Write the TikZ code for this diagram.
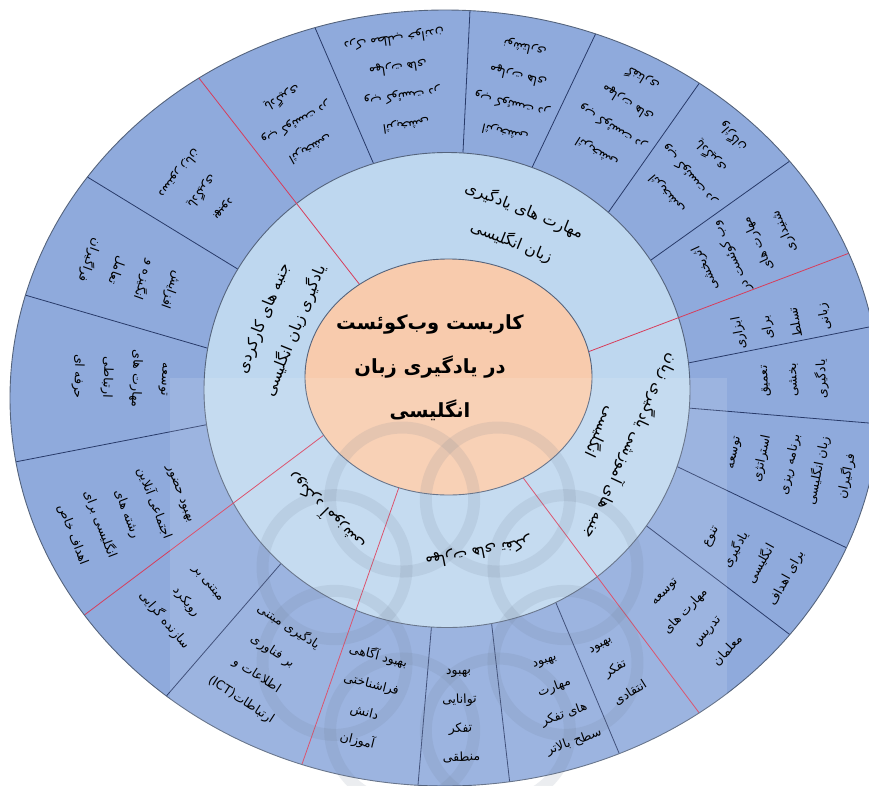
\documentclass[tikz,border=0pt]{standalone}
\usepackage{fontspec}
\usetikzlibrary{calc}
\TeXXeTstate=1
\newfontfamily\fafont[Script=Arabic]{DejaVu Sans}
\newcommand\prs[1]{{\fafont\beginR #1\endR}}
\definecolor{ringout}{RGB}{143,170,220}
\definecolor{ringin}{RGB}{190,215,239}
\definecolor{core}{RGB}{248,203,173}
\definecolor{rimline}{RGB}{85,100,125}
\definecolor{divblue}{RGB}{40,58,105}
\definecolor{divred}{RGB}{215,60,90}
\definecolor{wmgray}{RGB}{105,120,140}
\begin{document}
\begin{tikzpicture}[x=1pt,y=-1pt,
  otxt/.style={font=\fafont\fontsize{12.5}{29}\selectfont, align=center, inner sep=0pt, text=black},
  itxt/.style={font=\fafont\fontsize{15.5}{34}\selectfont, align=center, inner sep=0pt, text=black},
  ctxt/.style={font=\fafont\bfseries\fontsize{19.5}{44}\selectfont, align=center, inner sep=0pt, text=black},
  divb/.style={draw=divblue, line width=0.8pt},
  divr/.style={draw=divred, line width=0.8pt},
  rim/.style={draw=rimline, line width=0.9pt}]
\useasboundingbox (0,0) rectangle (869,785);
\clip (0,0) rectangle (869,785);
% centres
\coordinate (co) at (445,398);
\coordinate (ci) at (447,390);
\coordinate (cc) at (448.5,377);
% rings
\fill[ringout] (co) ellipse[x radius=435pt, y radius=388pt];
% divider coordinates (inner, outer)
\coordinate (l1a) at (463,152); \coordinate (l1b) at (470,10);
\coordinate (l2a) at (537,157); \coordinate (l2b) at (596,33);
\coordinate (l3a) at (610,210); \coordinate (l3b) at (698,85);
\coordinate (l4a) at (651,260); \coordinate (l4b) at (787,163);
\coordinate (l5a) at (688,363); \coordinate (l5b) at (869,327);
\coordinate (l6a) at (688,408); \coordinate (l6b) at (869,423);
\coordinate (l7a) at (678,467); \coordinate (l7b) at (847,548);
\coordinate (l8a) at (648,527); \coordinate (l8b) at (793,637);
\coordinate (l9a) at (556,603); \coordinate (l9b) at (619,753);
\coordinate (l10a) at (492,627); \coordinate (l10b) at (510,785);
\coordinate (l11a) at (431,632); \coordinate (l11b) at (418,785);
\coordinate (l12a) at (278,567); \coordinate (l12b) at (169,693);
\coordinate (l13a) at (205,425); \coordinate (l13b) at (15,462);
\coordinate (l14a) at (207,348); \coordinate (l14b) at (25,295);
\coordinate (l15a) at (236,268); \coordinate (l15b) at (89,178);
\coordinate (l16a) at (372,160); \coordinate (l16b) at (316,30);
\coordinate (r1a) at (593,350); \coordinate (r1b) at (868,246);
\coordinate (r2a) at (527,483); \coordinate (r2b) at (697,710);
\coordinate (r3a) at (398,490); \coordinate (r3b) at (301,767);
\coordinate (r4a) at (300,453); \coordinate (r4b) at (87,613);
\coordinate (r5a) at (360,285); \coordinate (r5b) at (202,82);
\begin{scope}
  \clip (co) ellipse[x radius=435pt, y radius=388pt];
  \foreach \n in {1,...,16}
    \draw[divb] ($(l\n a)!-0.3!(l\n b)$) -- ($(l\n a)!1.4!(l\n b)$);
\end{scope}
\filldraw[fill=ringin, rim] (ci) ellipse[x radius=243pt, y radius=237.5pt];
\begin{scope}
  \clip (co) ellipse[x radius=435pt, y radius=388pt];
  \foreach \n in {1,...,5}
    \draw[divr] ($(r\n a)!-0.3!(r\n b)$) -- ($(r\n a)!1.4!(r\n b)$);
\end{scope}
\filldraw[fill=core, rim] (cc) ellipse[x radius=143.5pt, y radius=118pt];
\draw[rim] (co) ellipse[x radius=435pt, y radius=388pt];
% watermark
\fill[white, opacity=0.12] (170,378) rectangle (727,785);
\coordinate (wmc) at (450,615);
\begin{scope}[opacity=0.13]
  \foreach \k in {0,...,7}
    \draw[wmgray, line width=12pt] ($(wmc)+({125*cos(\k*45+22.5)},{125*sin(\k*45+22.5)})$) circle[radius=72pt];
\end{scope}
% centre text
\node[ctxt] (title) at (430,368) {\prs{کاربست وب‌کوئست}\\\prs{در یادگیری زبان}\\\prs{انگلیسی}};
% inner ring
\node[itxt, rotate=-22] (catA) at (518,226) {\prs{مهارت های یادگیری}\\\prs{زبان انگلیسی}};
\node[itxt, rotate=-115] (catB) at (617,440) {\prs{جنبه های آموزشی یادگیری زبان}\\\prs{انگلیسی}};
\node[itxt, rotate=-169] (catC) at (478,552) {\prs{مهارت های تفکر}};
\node[itxt, rotate=135] (catD) at (326,512) {\prs{رویکرد آموزشی}};
\node[itxt, rotate=68] (catE) at (280,325) {\prs{جنبه های کارکردی}\\\prs{یادگیری زبان انگلیسی}};
% outer ring
\node[otxt, rotate=209] (o1) at (296,123) {\prs{اثربخشی}\\\prs{وب کوئست در}\\\prs{یادگیری}};
\node[otxt, rotate=188] (o2) at (400,82) {\prs{اثربخشی}\\\prs{وب کوئست در}\\\prs{مهارت های}\\\prs{درک مطلب خواندن}};
\node[otxt, rotate=167] (o3) at (515,90) {\prs{اثربخشی}\\\prs{وب کوئست در}\\\prs{مهارت های}\\\prs{نوشتاری}};
\node[otxt, rotate=148] (o4) at (620,115) {\prs{اثربخشی}\\\prs{وب کوئست در}\\\prs{مهارت های}\\\prs{گفتاری}};
\node[otxt, rotate=131] (o5) at (700,165) {\prs{اثربخشی}\\\prs{وب کوئست در}\\\prs{یادگیری}\\\prs{واژگان}};
\node[otxt, rotate=115] (o6) at (745,250) {\prs{اثربخشی}\\\prs{وب کوئست در}\\\prs{مهارت های}\\\prs{شنیداری}};
\node[otxt, rotate=101] (o7) at (782,325) {\prs{ابزاری}\\\prs{برای}\\\prs{تسلط}\\\prs{زبانی}};
\node[otxt, rotate=92] (o8) at (795,380) {\prs{تعمیق}\\\prs{بخشی}\\\prs{یادگیری}};
\node[otxt, rotate=78] (o9) at (792,465) {\prs{توسعه}\\\prs{استراتژی}\\\prs{برنامه ریزی}\\\prs{زبان انگلیسی}\\\prs{فراگیران}};
\node[otxt, rotate=61] (o10) at (750,558) {\prs{تنوع}\\\prs{یادگیری}\\\prs{انگلیسی}\\\prs{برای اهداف}};
\node[otxt, rotate=47] (o11) at (697,622) {\prs{توسعه}\\\prs{مهارت های}\\\prs{تدریس}\\\prs{معلمان}};
\node[otxt, rotate=32] (o12) at (616,670) {\prs{بهبود}\\\prs{تفکر}\\\prs{انتقادی}};
\node[otxt, rotate=20] (o13) at (560,703) {\prs{بهبود}\\\prs{مهارت}\\\prs{های تفکر}\\\prs{سطح بالاتر}};
\node[otxt, rotate=2] (o14) at (460,716) {\prs{بهبود}\\\prs{توانایی}\\\prs{تفکر}\\\prs{منطقی}};
\node[otxt, rotate=-14] (o15) at (368,698) {\prs{بهبود آگاهی}\\\prs{فراشناختی}\\\prs{دانش}\\\prs{آموزان}};
\node[otxt, rotate=-33] (o16) at (265,663) {\prs{یادگیری مبتنی}\\\prs{بر فناوری}\\\prs{اطلاعات و}\\{\fafont(ICT)}\prs{ارتباطات}};
\node[otxt, rotate=-50] (o17) at (185,603) {\prs{مبتنی بر}\\\prs{رویکرد}\\\prs{سازنده گرایی}};
\node[otxt, rotate=-69] (o18) at (125,515) {\prs{بهبود حضور}\\\prs{اجتماعی آنلاین}\\\prs{رشته های}\\\prs{انگلیسی برای}\\\prs{اهداف خاص}};
\node[otxt, rotate=-92] (o19) at (120,378) {\prs{توسعه}\\\prs{مهارت های}\\\prs{ارتباطی}\\\prs{حرفه ای}};
\node[otxt, rotate=-110] (o20) at (130,275) {\prs{افزایش}\\\prs{انگیزه و}\\\prs{تعامل}\\\prs{فراگیران}};
\node[otxt, rotate=-129] (o21) at (200,190) {\prs{بهبود}\\\prs{یادگیری}\\\prs{دستور زبان}};
\end{tikzpicture}
\end{document}
